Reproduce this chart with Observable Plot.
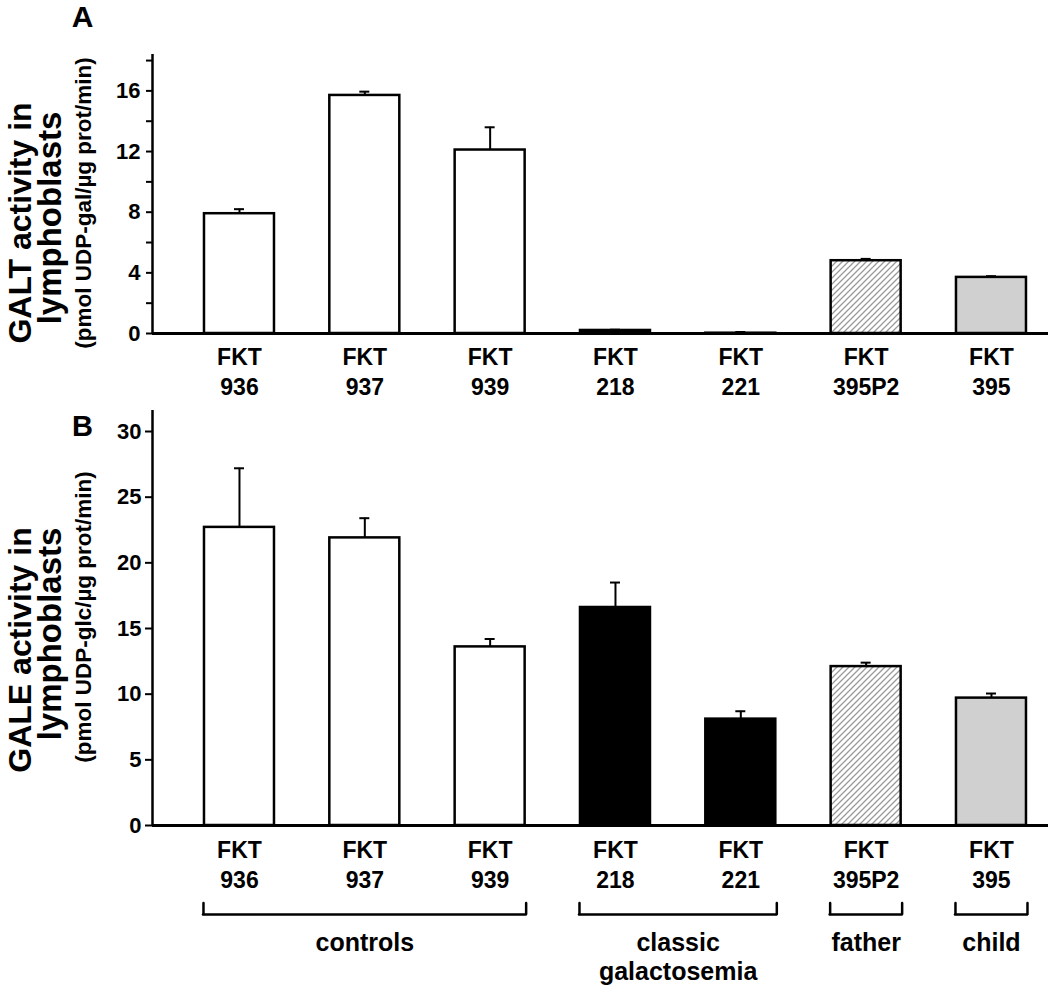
<!DOCTYPE html>
<html>
<head>
<meta charset="utf-8">
<script src="https://cdn.jsdelivr.net/npm/d3@7"></script>
<script src="https://cdn.jsdelivr.net/npm/@observablehq/plot@0.6"></script>
<style>
  html, body { margin: 0; padding: 0; background: #fff; }
  #chart svg { display: block; overflow: visible; }
</style>
</head>
<body>
<svg width="0" height="0" style="position:absolute">
  <defs>
    <pattern id="hatch" patternUnits="userSpaceOnUse" width="6" height="6">
      <rect width="6" height="6" fill="white"></rect>
      <path d="M-1,1 l2,-2 M0,6 l6,-6 M5,7 l2,-2" stroke="#9a9a9a" stroke-width="1.3"></path>
    </pattern>
  </defs>
</svg>
<div id="chart"></div>
<script>
// ---------- data ----------
const ids = ["936", "937", "939", "218", "221", "395P2", "395"];
const sampleKind = ["control", "control", "control", "classic", "classic", "father", "child"];
const galtMean = [7.9, 15.7, 12.1, 0.2, 0.02, 4.8, 3.7];
const galtSem  = [0.3, 0.25, 1.5, 0.05, 0.08, 0.12, 0.08];
const galeMean = [22.7, 21.9, 13.6, 16.6, 8.1, 12.1, 9.7];
const galeSem  = [4.5, 1.5, 0.6, 1.9, 0.6, 0.3, 0.35];
const galtTicks = [0, 2, 4, 6, 8, 10, 12, 14, 16, 18];
const galeTicks = [0, 5, 10, 15, 20, 25, 30];
const groupNames = ["controls", "classic\ngalactosemia", "father", "child"];
const groupFirst = [0, 3, 5, 6];
const groupLast  = [2, 4, 5, 6];
const yTitleA = ["GALT activity in", "lymphoblasts", "(pmol UDP-gal/µg prot/min)"];
const yTitleB = ["GALE activity in", "lymphoblasts", "(pmol UDP-glc/µg prot/min)"];
const kinds = ["control", "classic", "father", "child"];

// ---------- styles ----------
const kindFill = ["white", "black", "url(#hatch)", "#d0d0d0"];
const FONT = '"Liberation Sans", Arial, Helvetica, sans-serif';
const W = 1050, ML = 152, MR = 2;
const xDomain = [-0.694, 6.455];
const BAR_HALF = 35, CAP_HALF = 5, BRACKET_HALF = 36;
const TITLE_SIZES = [32, 33, 22.5];

const idx = ids.map((_, i) => i);
const rows = (mean, sem) => idx.map(i => ({i, kind: sampleKind[i], v: mean[i], top: mean[i] + sem[i]}));
const groups = groupNames.map((name, k) => ({name, a: groupFirst[k], b: groupLast[k], mid: (groupFirst[k] + groupLast[k]) / 2}));

function barMarks(data) {
  return [
    Plot.ruleX(data, {x: "i", y1: "v", y2: "top", stroke: "black", strokeWidth: 2}),
    Plot.ruleY(data, {x1: "i", x2: "i", y: "top", insetLeft: -CAP_HALF, insetRight: -CAP_HALF, stroke: "black", strokeWidth: 2}),
    Plot.rect(data, {x1: "i", x2: "i", y1: 0, y2: "v", insetLeft: -BAR_HALF, insetRight: -BAR_HALF, fill: "kind", stroke: "black", strokeWidth: 2.5})
  ];
}
function yTitles(lines, offs) {
  return lines.map((t, k) => Plot.text([t], {
    text: d => d, frameAnchor: "left", rotate: -90, textAnchor: "middle", lineAnchor: "middle",
    dx: offs[k][0], dy: offs[k][1], fontSize: TITLE_SIZES[k], fontWeight: "bold", fill: "black"
  }));
}
function letter(t, dx, dy, size) {
  return Plot.text([t], {text: d => d, frameAnchor: "top-left", textAnchor: "middle", lineAnchor: "middle",
    dx, dy, fontSize: size, fontWeight: "bold", fill: "black"});
}

const plotA = Plot.plot({
  width: W, height: 400, marginLeft: ML, marginRight: MR, marginTop: 54, marginBottom: 67,
  style: {fontFamily: FONT, background: "white", color: "black", overflow: "visible"},
  x: {type: "linear", domain: xDomain},
  y: {domain: [0, 18.4]},
  color: {domain: kinds, range: kindFill},
  marks: [
    Plot.ruleX([xDomain[0]], {stroke: "black", strokeWidth: 2.5}),
    ...barMarks(rows(galtMean, galtSem)),
    Plot.ruleY([0], {stroke: "black", strokeWidth: 3}),
    Plot.axisY(galtTicks, {tickFormat: d => d % 4 === 0 ? String(d) : "", tickSize: 6, tickPadding: 6,
      fontSize: 22, fontWeight: "bold", strokeWidth: 2, label: null}),
    Plot.axisX(idx, {tickFormat: i => "FKT\n" + ids[i], tickSize: 0, tickPadding: 11,
      fontSize: 23, fontWeight: "bold", lineHeight: 1.28, label: null}),
    ...yTitles(yTitleA, [[-132, 29], [-102, 24], [-69, 9]]),
    letter("A", -70, -37, 30)
  ]
});

const plotB = Plot.plot({
  width: W, height: 586, marginLeft: ML, marginRight: MR, marginTop: 10, marginBottom: 161,
  style: {fontFamily: FONT, background: "white", color: "black", overflow: "visible"},
  x: {type: "linear", domain: xDomain},
  y: {domain: [0, 31.6]},
  color: {domain: kinds, range: kindFill},
  marks: [
    Plot.ruleX([xDomain[0]], {stroke: "black", strokeWidth: 2.5}),
    ...barMarks(rows(galeMean, galeSem)),
    Plot.ruleY([0], {stroke: "black", strokeWidth: 3}),
    Plot.axisY(galeTicks, {tickFormat: d => String(d), tickSize: 7, tickPadding: 4,
      fontSize: 22, fontWeight: "bold", strokeWidth: 2, label: null}),
    Plot.axisX(idx, {tickFormat: i => "FKT\n" + ids[i], tickSize: 0, tickPadding: 12,
      fontSize: 23, fontWeight: "bold", lineHeight: 1.28, label: null}),
    Plot.ruleY(groups, {x1: "a", x2: "b", y: 0, dy: 89, insetLeft: -BRACKET_HALF, insetRight: -BRACKET_HALF,
      stroke: "black", strokeWidth: 2.5, strokeLinecap: "round"}),
    Plot.ruleX(groups, {x: "a", y1: 0, y2: 0, dx: -BRACKET_HALF, dy: 89, insetTop: -11,
      stroke: "black", strokeWidth: 2.5, strokeLinecap: "round"}),
    Plot.ruleX(groups, {x: "b", y1: 0, y2: 0, dx: BRACKET_HALF, dy: 89, insetTop: -11,
      stroke: "black", strokeWidth: 2.5, strokeLinecap: "round"}),
    Plot.text(groups, {x: "mid", y: 0, text: "name", dy: 105, lineAnchor: "top", textAnchor: "middle",
      fontSize: 25, fontWeight: "bold", lineHeight: 1.16, fill: "black"}),
    ...yTitles(yTitleB, [[-132, 32], [-102, 16], [-69, -1]]),
    letter("B", -70, 16, 29)
  ]
});

const root = document.getElementById("chart");
root.appendChild(plotA);
root.appendChild(plotB);
</script>
</body>
</html>
